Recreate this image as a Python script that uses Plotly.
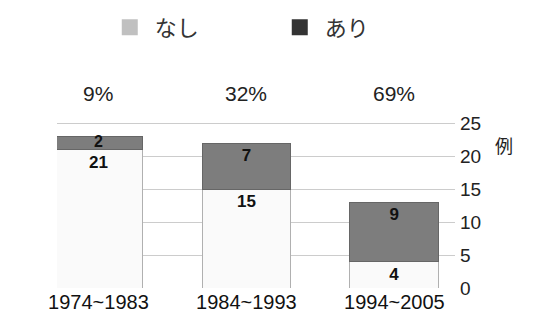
import plotly.graph_objects as go

categories = ["1974~1983", "1984~1993", "1994~2005"]
nashi = [21, 15, 4]
ari = [2, 7, 9]
percent_labels = ["9%", "32%", "69%"]
series_names = ["なし", "あり"]
y_ticks = [0, 5, 10, 15, 20, 25]
unit_label = "例"

FONT = "Liberation Sans, Arial, Noto Sans CJK JP, sans-serif"
JP_FONT = "Noto Sans CJK JP, sans-serif"

SHORT = 4  # segments shorter than this get their label centred by a text trace
ari_pos = ["none" if v < SHORT else "inside" for v in ari]

fig = go.Figure()

fig.add_trace(go.Bar(
    x=categories, y=nashi, name=series_names[0], showlegend=False,
    marker=dict(color="#fafafa", line=dict(color="#b0b0b0", width=1)),
    text=["<b>%d</b>" % v for v in nashi], textposition="inside",
    insidetextanchor="end", textangle=0,
    textfont=dict(family=FONT, size=17, color="#111111"),
    width=0.6,
))
fig.add_trace(go.Bar(
    x=categories, y=ari, name=series_names[1], showlegend=False,
    marker=dict(color="#7d7d7d", line=dict(color="#666666", width=1)),
    text=["<b>%d</b>" % v for v in ari], textposition=ari_pos,
    insidetextanchor="end", textangle=0,
    textfont=dict(family=FONT, size=17, color="#111111"),
    width=0.6,
))

# centred labels for short segments
sx = [c for c, v in zip(categories, ari) if v < SHORT]
sy = [n + v / 2 for n, v in zip(nashi, ari) if v < SHORT]
st = ["<b>%d</b>" % v for v in ari if v < SHORT]
fig.add_trace(go.Scatter(x=sx, y=sy, mode="text", text=st, showlegend=False,
                         textposition="middle center", hoverinfo="skip",
                         textfont=dict(family=FONT, size=16, color="#111111")))

# legend entries
fig.add_trace(go.Scatter(x=[None], y=[None], mode="markers", name=series_names[0],
                         marker=dict(symbol="square", size=20, color="#c0c0c0")))
fig.add_trace(go.Scatter(x=[None], y=[None], mode="markers", name=series_names[1],
                         marker=dict(symbol="square", size=20, color="#333333")))

for cat, p in zip(categories, percent_labels):
    fig.add_annotation(x=cat, y=1.17, xref="x", yref="paper", text=p,
                       showarrow=False, yanchor="middle",
                       font=dict(family=FONT, size=21, color="#222222"))

fig.add_annotation(x=1.0, y=0.86, xref="paper", yref="paper", text=unit_label,
                   xshift=60, showarrow=False, yanchor="middle",
                   font=dict(family=JP_FONT, size=18, color="#222222"))

fig.update_layout(
    width=545, height=326,
    margin=dict(l=57, r=90, t=122, b=38, autoexpand=False),
    paper_bgcolor="white", plot_bgcolor="white",
    barmode="stack",
    uniformtext=dict(minsize=17, mode="show"),
    showlegend=True,
    legend=dict(orientation="h", x=0.12, xanchor="left", y=1.57, yanchor="middle",
                traceorder="normal",
                font=dict(family=JP_FONT, size=22, color="#333333"),
                itemsizing="trace", itemwidth=40, entrywidth=115,
                bgcolor="rgba(0,0,0,0)"),
    xaxis=dict(range=[-0.28, 2.41], showgrid=False, showline=False, zeroline=False,
               ticks="", tickfont=dict(family=FONT, size=20, color="#111111")),
    yaxis=dict(side="right", range=[0, 25.2], tickvals=y_ticks,
               showgrid=True, gridcolor="#cccccc", gridwidth=1, zeroline=False,
               showline=False, ticks="", ticklabelstandoff=4,
               tickfont=dict(family=FONT, size=19, color="#222222")),
)

fig.write_html("out.html")
